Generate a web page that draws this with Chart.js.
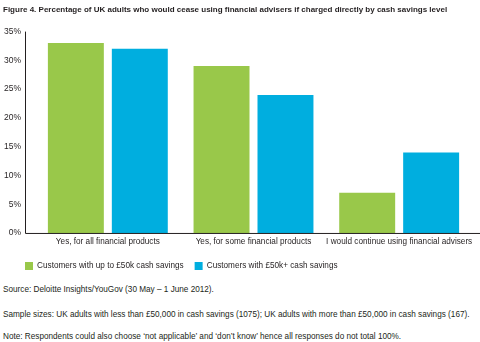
<!DOCTYPE html>
<html>
<head>
<meta charset="utf-8">
<script src="https://cdn.jsdelivr.net/npm/chart.js@4/dist/chart.umd.min.js"></script>
<style>
  html, body { margin: 0; padding: 0; background: #fff; }
  #wrap { position: absolute; left: 0; top: 0; width: 480px; height: 280px; }
  .note { position: absolute; left: 3px; font-family: 'Liberation Sans', Arial, sans-serif; font-size: 8.2px; color: #231f20; white-space: nowrap; line-height: 10px; }
</style>
</head>
<body>
<div id="wrap"><canvas id="c"></canvas></div>
<div class="note" style="top:285px">Source: Deloitte Insights/YouGov (30 May – 1 June 2012).</div>
<div class="note" style="top:310px">Sample sizes: UK adults with less than £50,000 in cash savings (1075); UK adults with more than £50,000 in cash savings (167).</div>
<div class="note" style="top:332px">Note: Respondents could also choose ‘not applicable’ and ‘don’t know’ hence all responses do not total 100%.</div>
<script>
const categories = ['Yes, for all financial products', 'Yes, for some financial products', 'I would continue using financial advisers'];
const seriesNames = ['Customers with up to £50k cash savings', 'Customers with £50k+ cash savings'];
const upTo50k = [33, 29, 7];
const over50k = [32, 24, 14];
const yTicks = [0, 5, 10, 15, 20, 25, 30, 35];

const FONT = "'Liberation Sans', Arial, sans-serif";
const TXT = '#231f20';

const axisPlugin = {
  id: 'axisLines',
  afterLayout(chart) {
    chart.legend.left += 11;
  },
  afterDraw(chart) {
    const a = chart.chartArea;
    const ctx = chart.ctx;
    ctx.save();
    ctx.strokeStyle = '#231f20';
    ctx.lineWidth = 1;
    ctx.beginPath();
    ctx.moveTo(a.left - 9.5, a.top);
    ctx.lineTo(a.left - 9.5, a.bottom + 0.5);
    ctx.lineTo(chart.width, a.bottom + 0.5);
    ctx.stroke();
    ctx.restore();
  }
};

new Chart(document.getElementById('c'), {
  type: 'bar',
  data: {
    labels: categories,
    datasets: [
      { label: seriesNames[0], data: upTo50k, backgroundColor: '#99c84a' },
      { label: seriesNames[1], data: over50k, backgroundColor: '#00aedf' }
    ]
  },
  options: {
    responsive: true,
    maintainAspectRatio: false,
    animation: false,
    categoryPercentage: 0.878,
    barPercentage: 0.875,
    layout: { padding: { left: 3, right: 8, top: 0, bottom: 0 } },
    plugins: {
      title: {
        display: true,
        align: 'start',
        text: 'Figure 4. Percentage of UK adults who would cease using financial advisers if charged directly by cash savings level',
        color: TXT,
        font: { family: FONT, size: 8, weight: 'bold' },
        padding: { top: 5, bottom: 17 }
      },
      legend: {
        position: 'bottom',
        align: 'start',
        labels: {
          boxWidth: 8, boxHeight: 8, padding: 11,
          color: TXT,
          font: { family: FONT, size: 8.2 }
        }
      },
      tooltip: { enabled: false }
    },
    scales: {
      x: {
        grid: { display: false, drawTicks: false },
        border: { display: false },
        ticks: { color: TXT, font: { family: FONT, size: 8.2 }, padding: 4, maxRotation: 0, autoSkip: false }
      },
      y: {
        min: 0, max: 35,
        grid: { display: false, drawTicks: false },
        border: { display: false },
        afterBuildTicks(scale) { scale.ticks = yTicks.map(v => ({ value: v })); },
        afterFit(scale) { scale.width = 32; },
        ticks: { color: TXT, font: { family: FONT, size: 8.5 }, padding: 14, callback: v => v + '%' }
      }
    }
  },
  plugins: [axisPlugin]
});
</script>
</body>
</html>
